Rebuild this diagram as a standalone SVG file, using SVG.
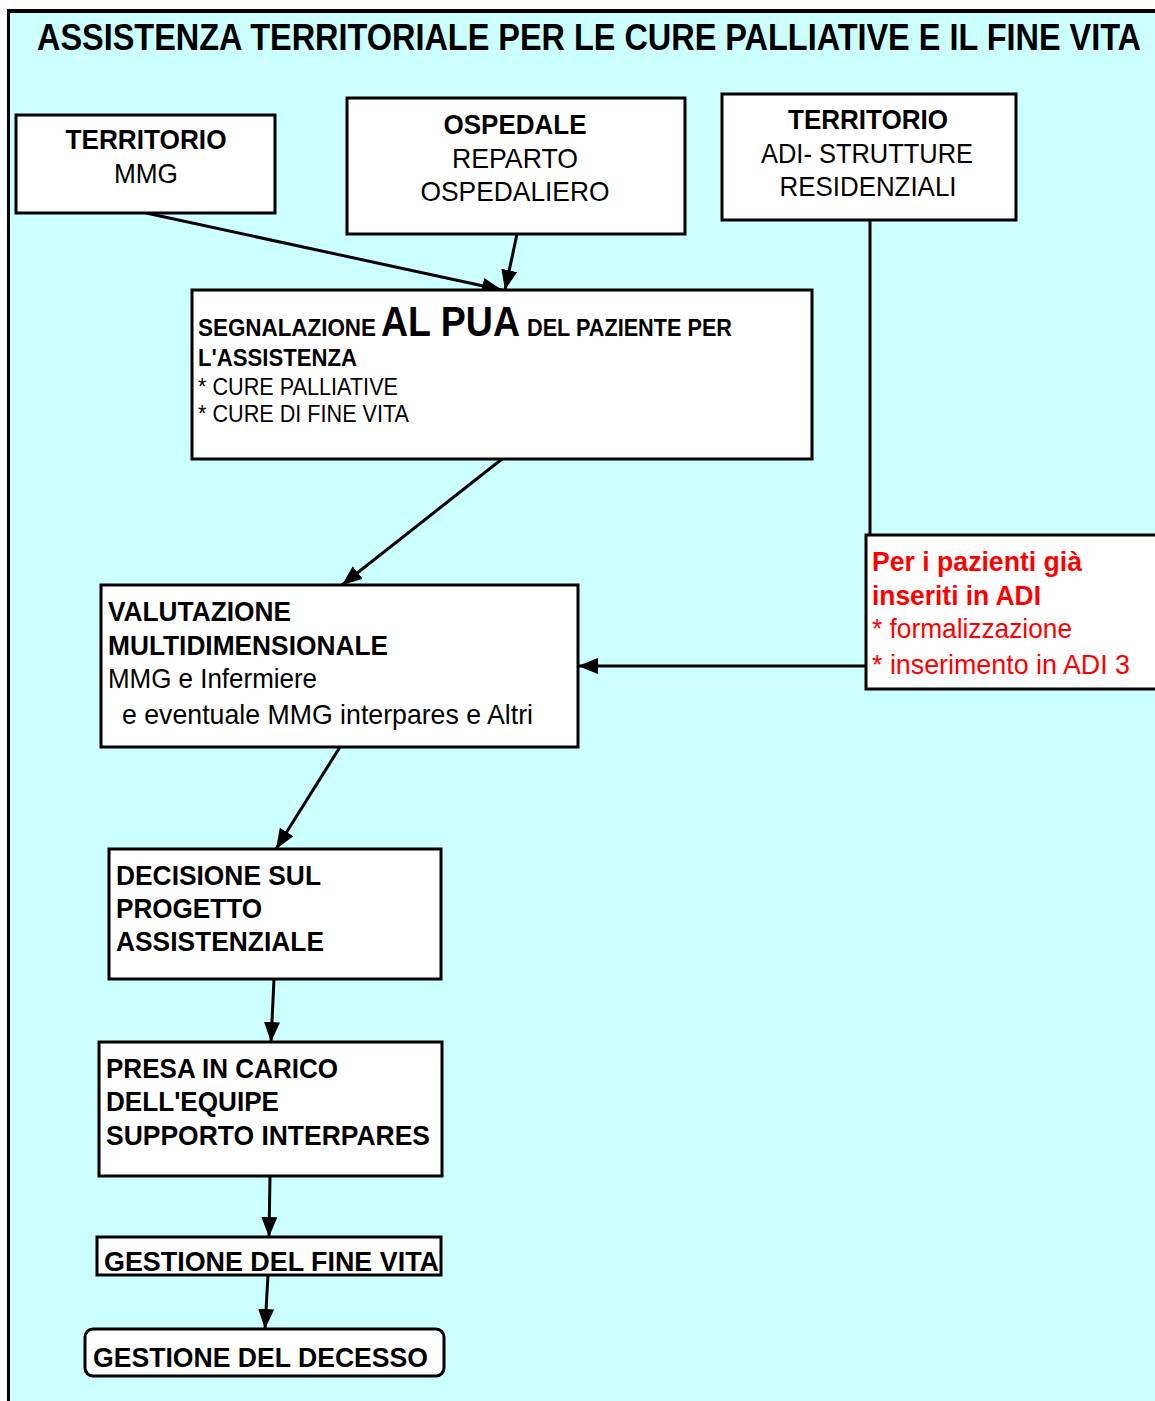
<svg xmlns="http://www.w3.org/2000/svg" width="1155" height="1401" viewBox="0 0 1155 1401">
<defs>
<style>
.box{fill:#ffffff;stroke:#000000;stroke-width:3}
.t{font-family:"Liberation Sans",Arial,sans-serif;fill:#000000}
.b{font-weight:bold}
.c{text-anchor:middle}
.red{fill:#ff0000}
.con{stroke:#000000;stroke-width:3;fill:none}
</style>
<marker id="ah" markerUnits="userSpaceOnUse" markerWidth="22" markerHeight="18" refX="20" refY="8" orient="auto">
<path d="M0,0 L20,8 L0,16 Z" fill="#000000"/>
</marker>
</defs>
<rect x="0" y="0" width="1155" height="1401" fill="#ffffff"/>
<rect x="9" y="12" width="1146" height="1389" fill="#ccffff"/>
<line x1="7" y1="11" x2="1155" y2="11" stroke="#000000" stroke-width="4"/>
<line x1="8.5" y1="9" x2="8.5" y2="1401" stroke="#000000" stroke-width="3"/>
<text class="t b" x="37" y="50" font-size="37" textLength="1104" lengthAdjust="spacingAndGlyphs">ASSISTENZA TERRITORIALE PER LE CURE PALLIATIVE E IL FINE VITA</text>

<g id="connectors">
<line class="con" x1="146" y1="213" x2="502" y2="290" marker-end="url(#ah)"/>
<line class="con" x1="517" y1="234" x2="505" y2="290" marker-end="url(#ah)"/>
<line class="con" x1="502" y1="459" x2="342" y2="585" marker-end="url(#ah)"/>
<line class="con" x1="340" y1="747" x2="276" y2="849" marker-end="url(#ah)"/>
<line class="con" x1="274" y1="979" x2="271" y2="1042" marker-end="url(#ah)"/>
<line class="con" x1="270" y1="1176" x2="269" y2="1237" marker-end="url(#ah)"/>
<line class="con" x1="268" y1="1275" x2="265" y2="1329" marker-end="url(#ah)"/>
<line class="con" x1="870" y1="220" x2="870" y2="535"/>
<line class="con" x1="866" y1="666" x2="578" y2="666" marker-end="url(#ah)"/>
</g>

<g id="node-territorio-mmg">
<rect class="box" x="16" y="115" width="259" height="98"/>
<text class="t b c" x="146" y="149" font-size="28" textLength="161" lengthAdjust="spacingAndGlyphs">TERRITORIO</text>
<text class="t c" x="146" y="183" font-size="28" textLength="64" lengthAdjust="spacingAndGlyphs">MMG</text>
</g>

<g id="node-ospedale">
<rect class="box" x="347" y="98" width="338" height="136"/>
<text class="t b c" x="515" y="134" font-size="28" textLength="143" lengthAdjust="spacingAndGlyphs">OSPEDALE</text>
<text class="t c" x="515" y="168" font-size="28" textLength="126" lengthAdjust="spacingAndGlyphs">REPARTO</text>
<text class="t c" x="515" y="201" font-size="28" textLength="189" lengthAdjust="spacingAndGlyphs">OSPEDALIERO</text>
</g>

<g id="node-territorio-adi">
<rect class="box" x="722" y="94" width="294" height="126"/>
<text class="t b c" x="868" y="129" font-size="28" textLength="160" lengthAdjust="spacingAndGlyphs">TERRITORIO</text>
<text class="t c" x="867" y="163" font-size="28" textLength="212" lengthAdjust="spacingAndGlyphs">ADI- STRUTTURE</text>
<text class="t c" x="868" y="196" font-size="28" textLength="177" lengthAdjust="spacingAndGlyphs">RESIDENZIALI</text>
</g>

<g id="node-segnalazione">
<rect class="box" x="192" y="290" width="620" height="169"/>
<text class="t b" x="198" y="336" font-size="24" textLength="178" lengthAdjust="spacingAndGlyphs">SEGNALAZIONE</text>
<text class="t b" x="381" y="336" font-size="42" textLength="139" lengthAdjust="spacingAndGlyphs">AL PUA</text>
<text class="t b" x="527" y="336" font-size="24" textLength="205" lengthAdjust="spacingAndGlyphs">DEL PAZIENTE PER</text>
<text class="t b" x="198" y="366" font-size="24" textLength="159" lengthAdjust="spacingAndGlyphs">L'ASSISTENZA</text>
<text class="t" x="198" y="395" font-size="24" textLength="200" lengthAdjust="spacingAndGlyphs">* CURE PALLIATIVE</text>
<text class="t" x="198" y="422" font-size="24" textLength="211" lengthAdjust="spacingAndGlyphs">* CURE DI FINE VITA</text>
</g>

<g id="node-valutazione">
<rect class="box" x="101" y="585" width="477" height="162"/>
<text class="t b" x="108" y="621" font-size="28" textLength="183" lengthAdjust="spacingAndGlyphs">VALUTAZIONE</text>
<text class="t b" x="108" y="655" font-size="28" textLength="280" lengthAdjust="spacingAndGlyphs">MULTIDIMENSIONALE</text>
<text class="t" x="108" y="688" font-size="28" textLength="209" lengthAdjust="spacingAndGlyphs">MMG e Infermiere</text>
<text class="t" x="122" y="724" font-size="28" textLength="411" lengthAdjust="spacingAndGlyphs">e eventuale MMG interpares e Altri</text>
</g>

<g id="node-adi-pazienti">
<rect class="box" x="866" y="535" width="296" height="154"/>
<text class="t b red" x="872" y="571" font-size="28" textLength="210" lengthAdjust="spacingAndGlyphs">Per i pazienti già</text>
<text class="t b red" x="872" y="605" font-size="28" textLength="169" lengthAdjust="spacingAndGlyphs">inseriti in ADI</text>
<text class="t red" x="872" y="638" font-size="28" textLength="200" lengthAdjust="spacingAndGlyphs">* formalizzazione</text>
<text class="t red" x="872" y="674" font-size="28" textLength="258" lengthAdjust="spacingAndGlyphs">* inserimento in ADI 3</text>
</g>

<g id="node-decisione">
<rect class="box" x="109" y="849" width="332" height="130"/>
<text class="t b" x="116" y="885" font-size="28" textLength="205" lengthAdjust="spacingAndGlyphs">DECISIONE SUL</text>
<text class="t b" x="116" y="918" font-size="28" textLength="146" lengthAdjust="spacingAndGlyphs">PROGETTO</text>
<text class="t b" x="116" y="951" font-size="28" textLength="208" lengthAdjust="spacingAndGlyphs">ASSISTENZIALE</text>
</g>

<g id="node-presa">
<rect class="box" x="99" y="1042" width="343" height="134"/>
<text class="t b" x="106" y="1078" font-size="28" textLength="232" lengthAdjust="spacingAndGlyphs">PRESA IN CARICO</text>
<text class="t b" x="106" y="1111" font-size="28" textLength="173" lengthAdjust="spacingAndGlyphs">DELL'EQUIPE</text>
<text class="t b" x="106" y="1145" font-size="28" textLength="324" lengthAdjust="spacingAndGlyphs">SUPPORTO INTERPARES</text>
</g>

<g id="node-fine-vita">
<rect class="box" x="97" y="1237" width="344" height="38"/>
<text class="t b" x="104" y="1271" font-size="28" textLength="335" lengthAdjust="spacingAndGlyphs">GESTIONE DEL FINE VITA</text>
</g>

<g id="node-decesso">
<rect class="box" x="85" y="1329" width="359" height="47" rx="8" ry="8"/>
<text class="t b" x="93" y="1367" font-size="28" textLength="335" lengthAdjust="spacingAndGlyphs">GESTIONE DEL DECESSO</text>
</g>
</svg>
